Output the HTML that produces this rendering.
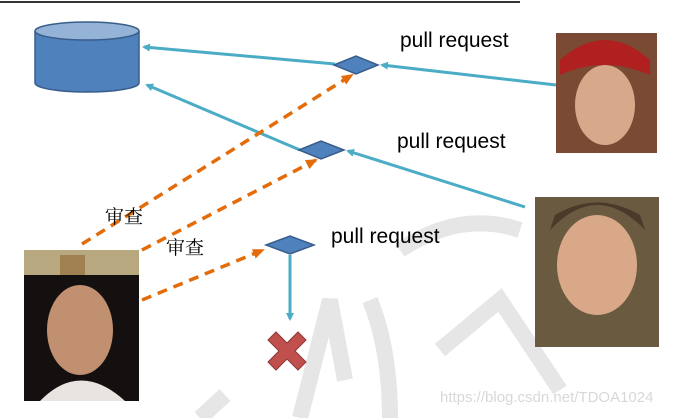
<!DOCTYPE html>
<html><head><meta charset="utf-8"><style>
body{margin:0;width:675px;height:418px;background:#fff;overflow:hidden;position:relative;font-family:"Liberation Sans","Noto Sans CJK SC",sans-serif}
</style></head><body>
<svg width="675" height="418" style="position:absolute;left:0;top:0">
<defs>
<marker id="c" markerWidth="8" markerHeight="8" refX="6" refY="4" orient="auto" markerUnits="userSpaceOnUse"><path d="M0,0L8,4L0,8z" fill="#4bacc6"/></marker>
<marker id="o" markerWidth="12" markerHeight="10" refX="10" refY="5" orient="auto" markerUnits="userSpaceOnUse"><path d="M0,0L12,5L0,10z" fill="#e36c0a"/></marker>
</defs>
<g fill="none" stroke="#e6e6e6" stroke-width="16">
<path d="M300,418 L330,300 L345,380"/><path d="M400,250 Q460,210 520,230"/><path d="M370,300 Q390,350 390,418"/><path d="M440,350 L500,300 L560,390"/><path d="M200,418 L225,395"/>
</g>
<line x1="0" y1="2" x2="520" y2="2" stroke="#333" stroke-width="2"/>
<path d="M35,31 V83 A52,9 0 0 0 139,83 V31" fill="#4f81bd" stroke="#385d8a" stroke-width="1.5"/>
<ellipse cx="87" cy="31" rx="52" ry="9" fill="#95b3d7" stroke="#385d8a" stroke-width="1.5"/>
<g stroke="#4bacc6" stroke-width="3" fill="none">
<line x1="556" y1="85" x2="382" y2="65" marker-end="url(#c)"/>
<line x1="335" y1="64" x2="144" y2="47" marker-end="url(#c)"/>
<line x1="525" y1="207" x2="348" y2="151" marker-end="url(#c)"/>
<line x1="300" y1="150" x2="147" y2="85" marker-end="url(#c)"/>
<line x1="290" y1="255" x2="290" y2="319" marker-end="url(#c)"/>
</g>
<g stroke="#e36c0a" stroke-width="3.5" fill="none" stroke-dasharray="10,7">
<line x1="82" y1="244" x2="352" y2="75" marker-end="url(#o)"/>
<line x1="142" y1="250" x2="316" y2="160" marker-end="url(#o)"/>
<line x1="142" y1="300" x2="263" y2="250" marker-end="url(#o)"/>
</g>
<g fill="#4f81bd" stroke="#385d8a" stroke-width="1.5">
<path d="M334,65 L356,56 L378,65 L356,74z"/>
<path d="M299,150 L321,141 L344,150 L321,159z"/>
<path d="M266,245 L290,236 L314,245 L290,254z"/>
</g>
<path d="M268,340 L276,332 L287,343 L298,332 L306,340 L295,351 L306,362 L298,370 L287,359 L276,370 L268,362 L279,351z" fill="#c0504d" stroke="#8c3836" stroke-width="1"/>
<rect x="556" y="33" width="101" height="120" fill="#7a4a35"/>
<ellipse cx="605" cy="105" rx="30" ry="40" fill="#d8a88a"/>
<path d="M560,60 Q605,20 650,60 L650,75 Q605,55 560,75z" fill="#b02020"/>
<rect x="535" y="197" width="124" height="150" fill="#6a5a40"/>
<ellipse cx="597" cy="265" rx="40" ry="50" fill="#d8a888"/>
<path d="M550,230 Q597,180 645,230 L640,215 Q597,190 555,215z" fill="#4a3a2a"/>
<rect x="24" y="250" width="115" height="151" fill="#141010"/>
<rect x="24" y="250" width="115" height="25" fill="#b8a880"/>
<ellipse cx="80" cy="330" rx="33" ry="45" fill="#c09070"/>
<rect x="60" y="255" width="25" height="20" fill="#a08050"/>
<path d="M40,401 Q80,360 125,401z" fill="#e8e4e0"/>
</svg>
<div style="position:absolute;left:400px;top:29px;font-size:21px">pull request</div>
<div style="position:absolute;left:397px;top:130px;font-size:21px">pull request</div>
<div style="position:absolute;left:331px;top:225px;font-size:21px">pull request</div>
<div style="position:absolute;left:105px;top:202px;font-size:19px;font-family:'Noto Serif CJK SC',serif">审查</div>
<div style="position:absolute;left:166px;top:233px;font-size:19px;font-family:'Noto Serif CJK SC',serif">审查</div>
<div style="position:absolute;left:440px;top:389px;font-size:15px;color:#d8d8d8">https://blog.csdn.net/TDOA1024</div>
</body></html>
